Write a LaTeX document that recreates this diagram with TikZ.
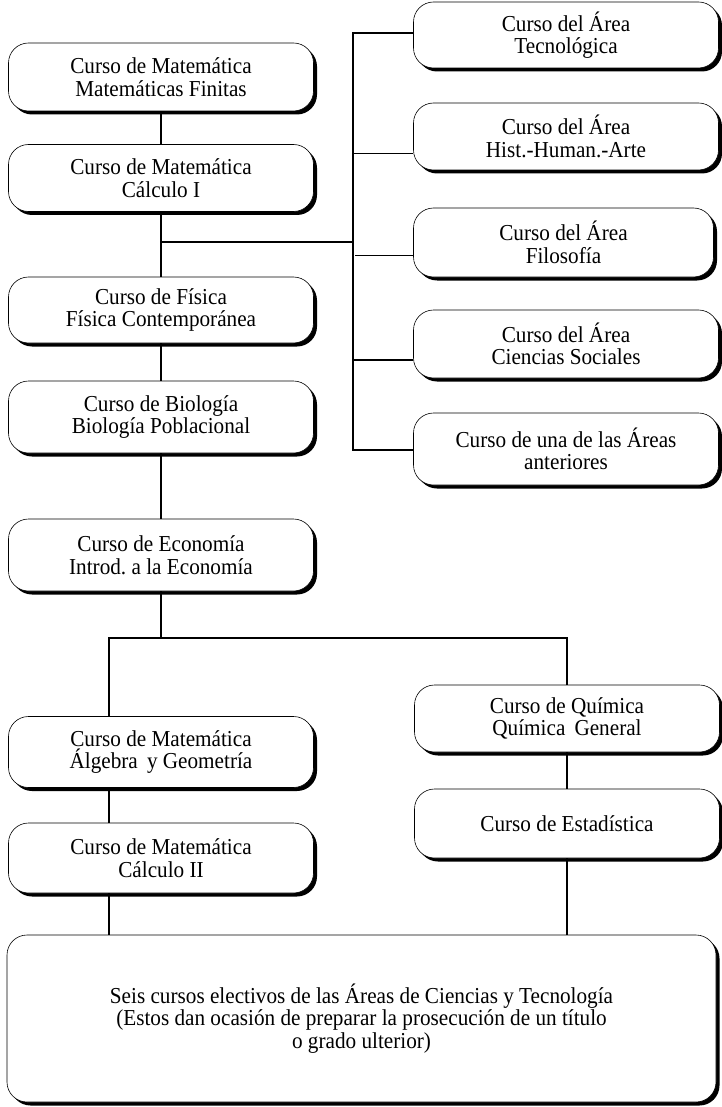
\documentclass[tikz,border=0pt]{standalone}
\usepackage{fontspec}
\setmainfont{Liberation Serif}[FakeStretch=0.93]
\usetikzlibrary{shapes.geometric, positioning, shadows}
\tikzstyle{course} = [
	rectangle, 
	rounded corners=20pt, 
	minimum width=305pt,
	minimum height=68pt, 
	align=center, 
	text centered, 
	draw=black, 
	line width=0.6pt,
	fill=white,
	font=\fontsize{22.8}{22.5}\selectfont,
	drop shadow={shadow xshift=3.5pt, shadow yshift=-3.5pt, fill=black, opacity=1}]
\tikzstyle{electives} = [
	course, 
	minimum width=709pt, 
	minimum height=167pt]
\tikzstyle{link} = [line width=1.8pt]

\begin{document}
\begin{tikzpicture}[x=1pt, y=-1pt]
\useasboundingbox (0,0) rectangle (721,1107);

% --- Nodes ---
\node (finitas) [course] at (161,77) {Curso de Matemática \\ Matemáticas Finitas};
\node (calculoi) [course, minimum height=67pt] at (161,178) {Curso de Matemática \\ Cálculo I};
\node (fisica) [course, minimum height=66pt] at (161,310) {Curso de Física \\ Física Contemporánea};
\node (biologia) [course, minimum height=72pt] at (161,417) {Curso de Biología \\ Biología Poblacional};
\node (economia) [course, minimum height=72pt] at (161,555) {Curso de Economía \\ Introd.\ a la Economía};
\node (algebra) [course, minimum height=71pt] at (161,752) {Curso de Matemática \\ Álgebra\, y Geometría};
\node (calculoii) [course, minimum height=70pt] at (161,858) {Curso de Matemática \\ Cálculo II};

\node (tecno) [course, minimum height=66pt] at (566,35) {Curso del Área \\ Tecnológica};
\node (hist) [course, minimum height=67pt] at (566,136.5) {Curso del Área \\ Hist.-Human.-Arte};
\node (filo) [course, minimum height=69pt, minimum width=300pt] at (563.5,242.5) {Curso del Área \\ Filosofía};
\node (social) [course] at (566,344) {Curso del Área \\ Ciencias Sociales};
\node (anterior) [course, minimum height=72pt] at (566,449) {Curso de una de las Áreas \\ anteriores};

\node (quimica) [course, minimum height=67pt] at (567,718.5) {Curso de Química \\ Química\, General};
\node (estad) [course, minimum height=69pt] at (567,823.5) {Curso de Estadística};

\node (electivos) [electives] at (361.5,1018.5) {Seis cursos electivos de las Áreas de Ciencias y Tecnología \\ (Estos dan ocasión de preparar la prosecución de un título \\ o grado ulterior)};

\coordinate (bus) at (353,242);
\coordinate (split) at (161,638);

% --- Lines ---
\draw [link] (finitas) -- (calculoi);
\draw [link] (calculoi) -- (fisica);
\draw [link] (calculoi.south |- bus) -- (bus);

\draw [link] ([yshift=2pt]tecno.west) -| (bus) |- ([yshift=-1pt]anterior.west);
\draw [link] ([yshift=-17pt]hist.west) -- ++(-60.5,0);
\draw [link] ([yshift=-13pt]filo.west) -- ++(-58,0);
\draw [link] ([yshift=-16pt]social.west) -- ++(-60.5,0);

\draw [link] (fisica) -- (biologia);
\draw [link] (biologia) -- (economia);
\draw [link] (economia) -- (split);

\draw [link] ([xshift=-52pt]algebra.north) |- (split) -| (quimica.north);

\draw [link] ([xshift=-52pt]algebra.south) -- ([xshift=-52pt]calculoii.north);
\draw [link] ([xshift=-52pt]calculoii.south) -- ([xshift=-52pt]calculoii.south |- electivos.north);

\draw [link] (quimica) -- (estad);
\draw [link] (estad.south) -- (estad.south |- electivos.north);

\end{tikzpicture}
\end{document}
